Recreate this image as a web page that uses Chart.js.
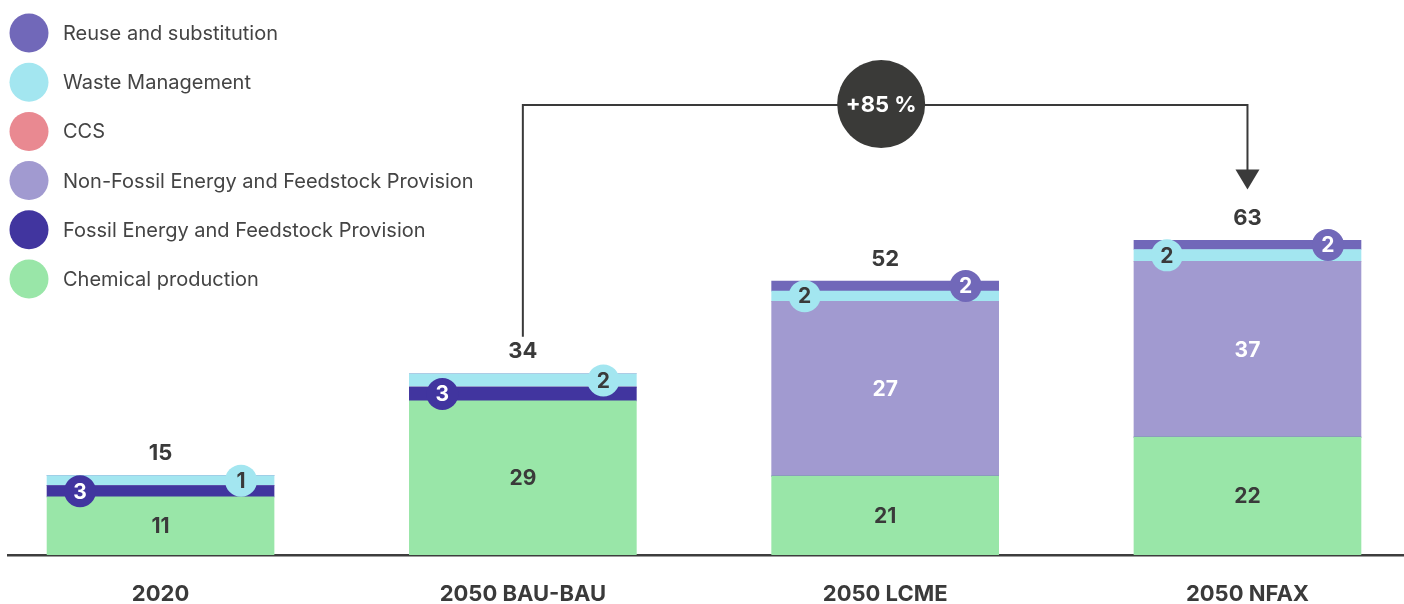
<!DOCTYPE html>
<html><head><meta charset="utf-8">
<script src="https://cdn.jsdelivr.net/npm/chart.js@4.4.1/dist/chart.umd.min.js"></script>
<style>html,body{margin:0;padding:0;background:#fff;}#wrap{width:1404px;height:604px;position:relative;}</style>
</head><body><div id="wrap"><canvas id="c" width="1404" height="604"></canvas></div>
<script>
// ---- data (bar heights) ----
const categories = ['2020', '2050 BAU-BAU', '2050 LCME', '2050 NFAX'];
const chemicalProduction = [10.9, 28.9, 14.8, 22.1];
const fossilProvision = [2.1, 2.6, 0, 0];
const nonFossilProvision = [0, 0, 32.8, 33.0];
const ccsValues = [0, 0, 0, 0];
const wasteManagement = [1.9, 2.5, 1.9, 2.2];
const reuseSubstitution = [0, 0, 1.9, 1.7];
// ---- printed value labels ----
const chemicalLabels = ['11', '29', '21', '22'];
const fossilLabels = ['3', '3', '', ''];
const nonFossilLabels = ['', '', '27', '37'];
const ccsLabels = ['', '', '', ''];
const wasteLabels = ['1', '2', '2', '2'];
const reuseLabels = ['', '', '2', '2'];
const totalLabels = ['15', '34', '52', '63'];
const changeLabel = '+85 %';
const changeFrom = 1, changeTo = 3, changeLevel = 84.4;

const FONT = 'Inter, "Liberation Sans", sans-serif';
const TXT = '#3a3a3a';

function pts(arr) { return arr.map((v, i) => ({ x: i, y: v })); }

const datasets = [
  { label: 'Chemical production', data: pts(chemicalProduction), backgroundColor: '#99e6a8', valueLabels: chemicalLabels, kind: 'inner', textColor: TXT },
  { label: 'Fossil Energy and Feedstock Provision', data: pts(fossilProvision), backgroundColor: '#41359f', valueLabels: fossilLabels, kind: 'badge', textColor: '#ffffff' },
  { label: 'Non-Fossil Energy and Feedstock Provision', data: pts(nonFossilProvision), backgroundColor: '#a19ad0', valueLabels: nonFossilLabels, kind: 'inner', textColor: '#ffffff' },
  { label: 'CCS', data: pts(ccsValues), backgroundColor: '#e98991', valueLabels: ccsLabels, kind: 'badge', textColor: '#ffffff' },
  { label: 'Waste Management', data: pts(wasteManagement), backgroundColor: '#a3e6f0', valueLabels: wasteLabels, kind: 'badge', textColor: TXT },
  { label: 'Reuse and substitution', data: pts(reuseSubstitution), backgroundColor: '#7168b9', valueLabels: reuseLabels, kind: 'badge', textColor: '#ffffff' }
];

const legendPlugin = {
  id: 'sideLegend',
  afterDraw(chart) {
    const ctx = chart.ctx;
    const ds = chart.data.datasets.slice().reverse();
    ctx.save();
    ds.forEach((d, i) => {
      const cy = 33 + i * 49.2;
      ctx.beginPath();
      ctx.arc(29, cy, 19.5, 0, Math.PI * 2);
      ctx.fillStyle = d.backgroundColor;
      ctx.fill();
      ctx.fillStyle = '#444444';
      ctx.font = '20px ' + FONT;
      ctx.textAlign = 'left';
      ctx.textBaseline = 'middle';
      ctx.fillText(d.label, 63, cy + 1);
    });
    ctx.restore();
  }
};

const labelPlugin = {
  id: 'valueLabels',
  afterDatasetsDraw(chart) {
    const ctx = chart.ctx;
    const n = categories.length;
    const xs = chart.scales.x, ys = chart.scales.y;
    ctx.save();
    ctx.textAlign = 'center';
    ctx.textBaseline = 'middle';
    const tops = [];
    for (let i = 0; i < n; i++) {
      let badgeCount = 0;
      let top = Infinity;
      chart.data.datasets.forEach((d, di) => {
        const el = chart.getDatasetMeta(di).data[i];
        if (!el) return;
        const { x, y, base, width } = el.getProps(['x', 'y', 'base', 'width'], true);
        if (d.data[i].y > 0) top = Math.min(top, y);
        const lab = d.valueLabels[i];
        if (!lab) return;
        const cy = (y + base) / 2;
        if (d.kind === 'inner') {
          ctx.fillStyle = d.textColor;
          ctx.font = 'bold 21px ' + FONT;
          ctx.fillText(lab, x, cy + 1);
        } else {
          const left = x - width / 2, right = x + width / 2;
          const bx = badgeCount === 0 ? left + 33 : right - 33;
          badgeCount++;
          ctx.beginPath();
          ctx.arc(bx, cy, 16, 0, Math.PI * 2);
          ctx.fillStyle = d.backgroundColor;
          ctx.fill();
          ctx.fillStyle = d.textColor;
          ctx.font = 'bold 21px ' + FONT;
          ctx.fillText(lab, bx, cy + 1);
        }
      });
      tops.push(top);
      ctx.fillStyle = TXT;
      ctx.font = 'bold 22px ' + FONT;
      ctx.fillText(totalLabels[i], xs.getPixelForValue(i), top - 22);
    }
    // change annotation
    const x1 = xs.getPixelForValue(changeFrom), x2 = xs.getPixelForValue(changeTo);
    const yl = ys.getPixelForValue(changeLevel);
    const yStart = tops[changeFrom] - 22 - 15;
    const yTip = tops[changeTo] - 22 - 29;
    ctx.strokeStyle = TXT;
    ctx.lineWidth = 2;
    ctx.beginPath();
    ctx.moveTo(x1, yStart);
    ctx.lineTo(x1, yl);
    ctx.lineTo(x2, yl);
    ctx.lineTo(x2, yTip - 18);
    ctx.stroke();
    ctx.beginPath();
    ctx.moveTo(x2 - 12, yTip - 20);
    ctx.lineTo(x2 + 12, yTip - 20);
    ctx.lineTo(x2, yTip);
    ctx.closePath();
    ctx.fillStyle = TXT;
    ctx.fill();
    const cx = (x1 + x2) / 2 - 4;
    ctx.beginPath();
    ctx.arc(cx, yl - 1, 44, 0, Math.PI * 2);
    ctx.fillStyle = '#3a3a38';
    ctx.fill();
    ctx.fillStyle = '#ffffff';
    ctx.font = 'bold 22px ' + FONT;
    ctx.fillText(changeLabel, cx, yl);
    ctx.restore();
  }
};

new Chart(document.getElementById('c'), {
  type: 'bar',
  data: { datasets },
  plugins: [legendPlugin, labelPlugin],
  options: {
    responsive: false,
    animation: false,
    barThickness: 227,
    layout: { padding: { left: 8, right: 0, top: 0, bottom: 0 } },
    plugins: { legend: { display: false }, tooltip: { enabled: false } },
    scales: {
      x: {
        type: 'linear', stacked: true, offset: false,
        min: -0.421, max: 3.432,
        grid: { display: false, drawTicks: false },
        border: { display: true, color: '#3d3d3d', width: 2.5 },
        afterBuildTicks: s => { s.ticks = categories.map((c, i) => ({ value: i })); },
        afterFit: s => { s.height = 49; },
        ticks: {
          callback: v => categories[v],
          font: { family: FONT, size: 22, weight: 'bold' },
          color: TXT, padding: 26, maxRotation: 0, autoSkip: false
        }
      },
      y: { display: false, stacked: true, min: 0, max: 104.1 }
    }
  }
});
</script></body></html>
